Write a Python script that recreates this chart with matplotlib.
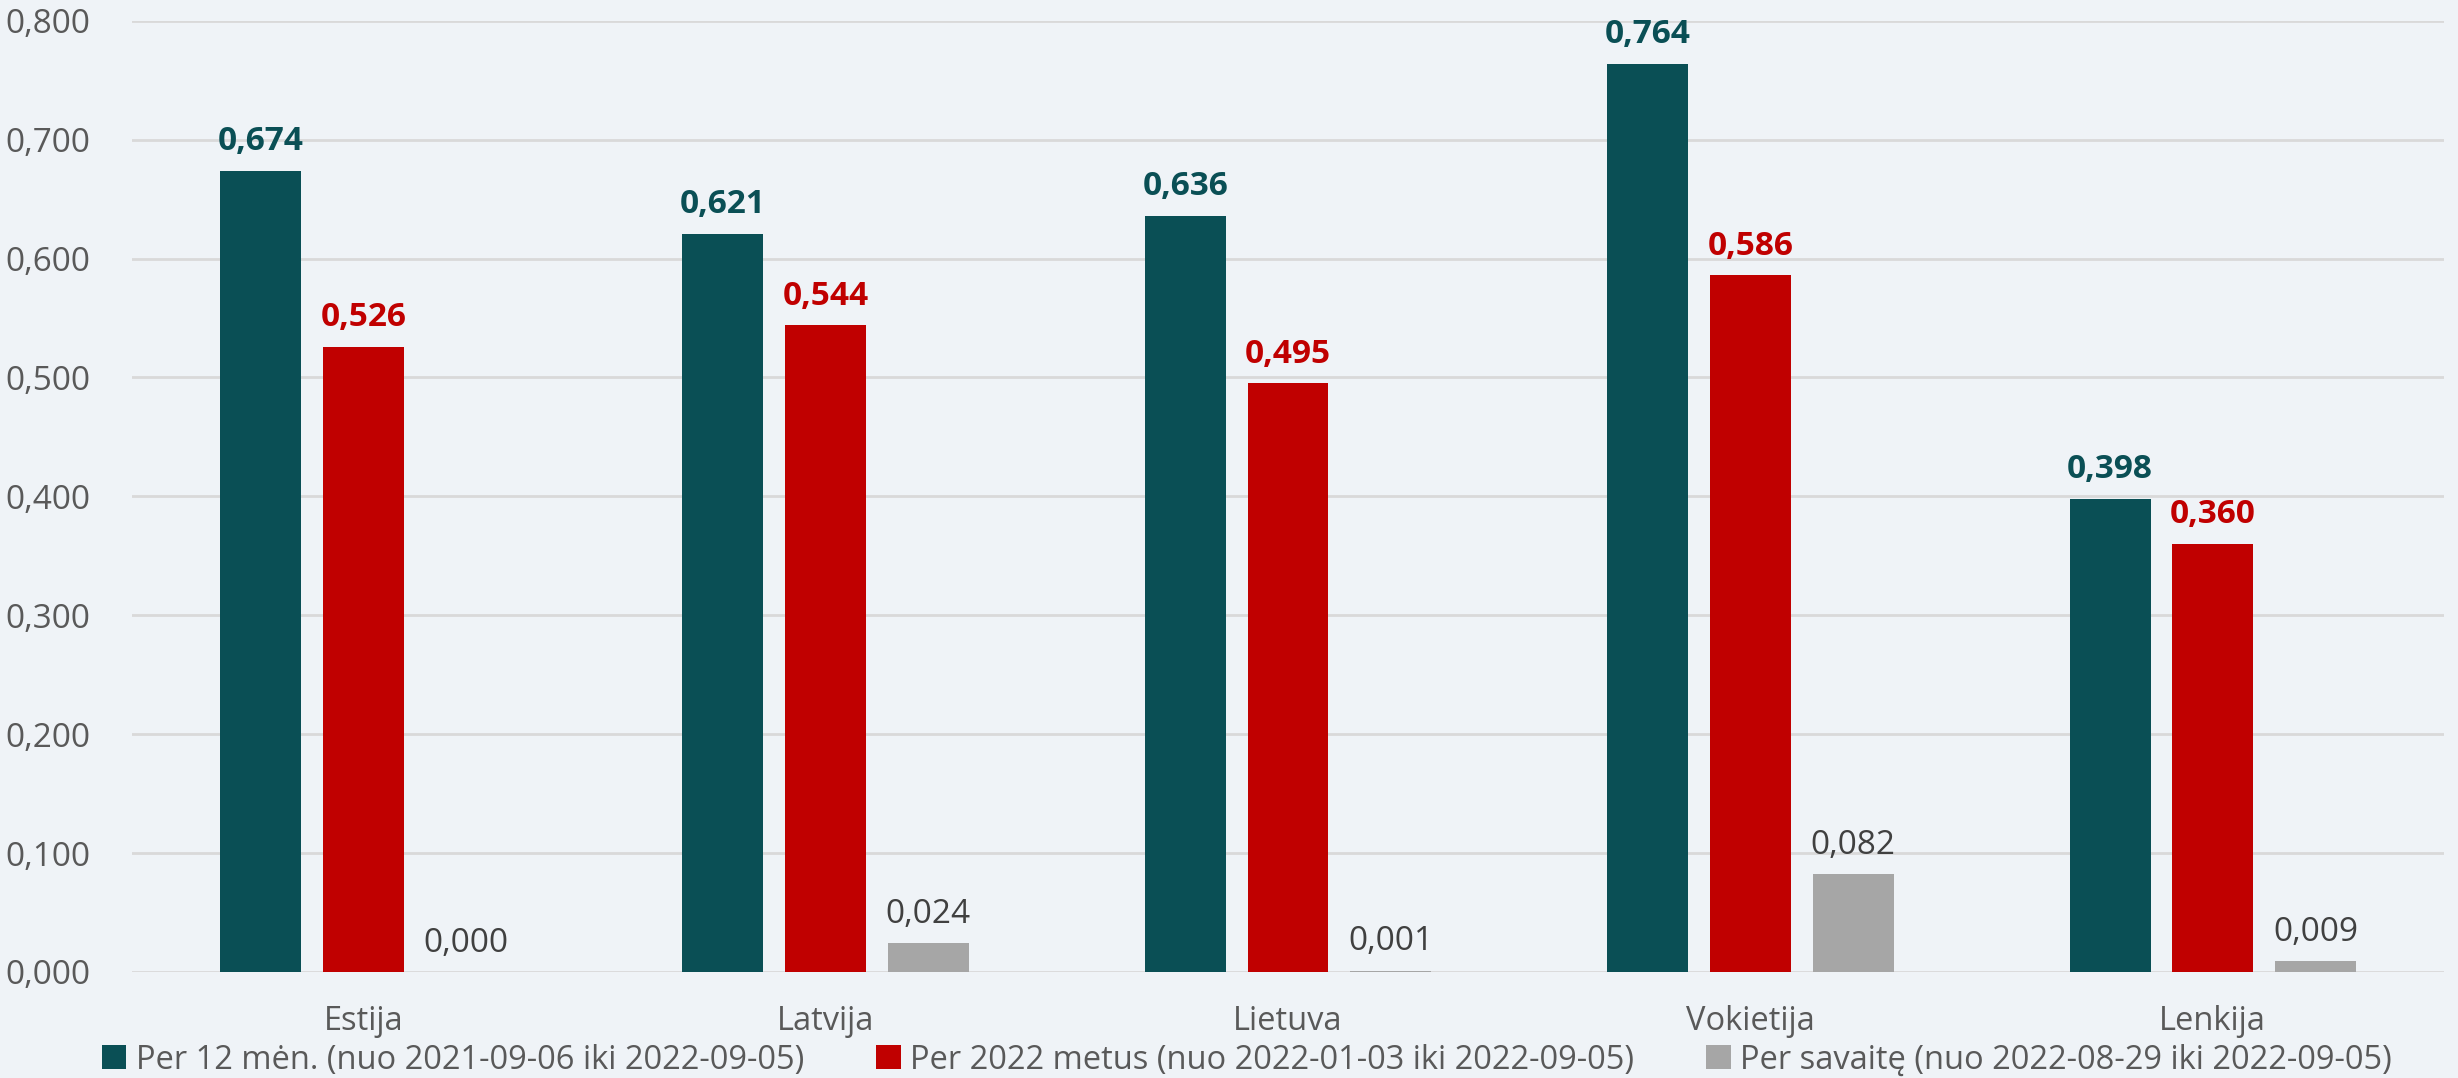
import matplotlib
matplotlib.use("Agg")
import matplotlib.pyplot as plt
import numpy as np
from matplotlib.patches import Patch

categories = ["Estija", "Latvija", "Lietuva", "Vokietija", "Lenkija"]
series_names = [
    "Per 12 mėn. (nuo 2021-09-06 iki 2022-09-05)",
    "Per 2022 metus (nuo 2022-01-03 iki 2022-09-05)",
    "Per savaitę (nuo 2022-08-29 iki 2022-09-05)",
]
per_12_men = [0.674, 0.621, 0.636, 0.764, 0.398]
per_2022 = [0.526, 0.544, 0.495, 0.586, 0.360]
per_savaite = [0.000, 0.024, 0.001, 0.082, 0.009]
yticks = [0.0, 0.1, 0.2, 0.3, 0.4, 0.5, 0.6, 0.7, 0.8]

colors = ["#0A4F55", "#C00000", "#A6A6A6"]
label_colors = ["#0A4F55", "#C00000", "#404040"]
label_weights = ["bold", "bold", "normal"]
bg = "#EFF3F7"

plt.rcParams["font.family"] = ["Open Sans", "DejaVu Sans"]

fig = plt.figure(figsize=(24.58, 10.78), dpi=100, facecolor=bg)
ax = fig.add_axes([132/2458, 1-972/1078, (2444-132)/2458, (972-20.7)/1078])
ax.set_facecolor(bg)

x = np.arange(len(categories))
width = 0.175
offset = 0.222
data = [per_12_men, per_2022, per_savaite]
for i, vals in enumerate(data):
    pos = x + (i - 1) * offset
    bars = ax.bar(pos, vals, width, color=colors[i], zorder=3, label=series_names[i])
    for b, v in zip(bars, vals):
        ax.annotate(f"{v:.3f}".replace(".", ","),
                    (b.get_x() + b.get_width()/2, b.get_height()),
                    xytext=(0, 9), textcoords="offset points",
                    ha="center", va="bottom", fontsize=24,
                    color=label_colors[i], fontweight=label_weights[i], zorder=4)

ax.set_xlim(-0.5, len(categories) - 0.5)
ax.set_ylim(0, 0.8)
ax.set_yticks(yticks)
ax.set_yticklabels([f"{t:.3f}".replace(".", ",") for t in yticks])
ax.set_xticks(x)
ax.set_xticklabels(categories)
ax.tick_params(axis="y", length=0, pad=30, labelsize=24, labelcolor="#595959")
ax.tick_params(axis="x", length=0, pad=24, labelsize=23.5, labelcolor="#595959")
ax.yaxis.grid(True, color="#D9D9D9", linewidth=2, zorder=0)
ax.set_axisbelow(True)
for s in ax.spines.values():
    s.set_visible(False)

handles = [Patch(facecolor=c) for c in colors]
fig.legend(handles, series_names, loc="center", bbox_to_anchor=(1247/2458, 1-1060/1078),
           ncol=3, frameon=False, fontsize=23.5, labelcolor="#595959",
           handlelength=0.75, handleheight=0.75, handletextpad=0.3, columnspacing=2.2,
           borderpad=0, borderaxespad=0)

fig.savefig("out.png", dpi=100, facecolor=bg)
